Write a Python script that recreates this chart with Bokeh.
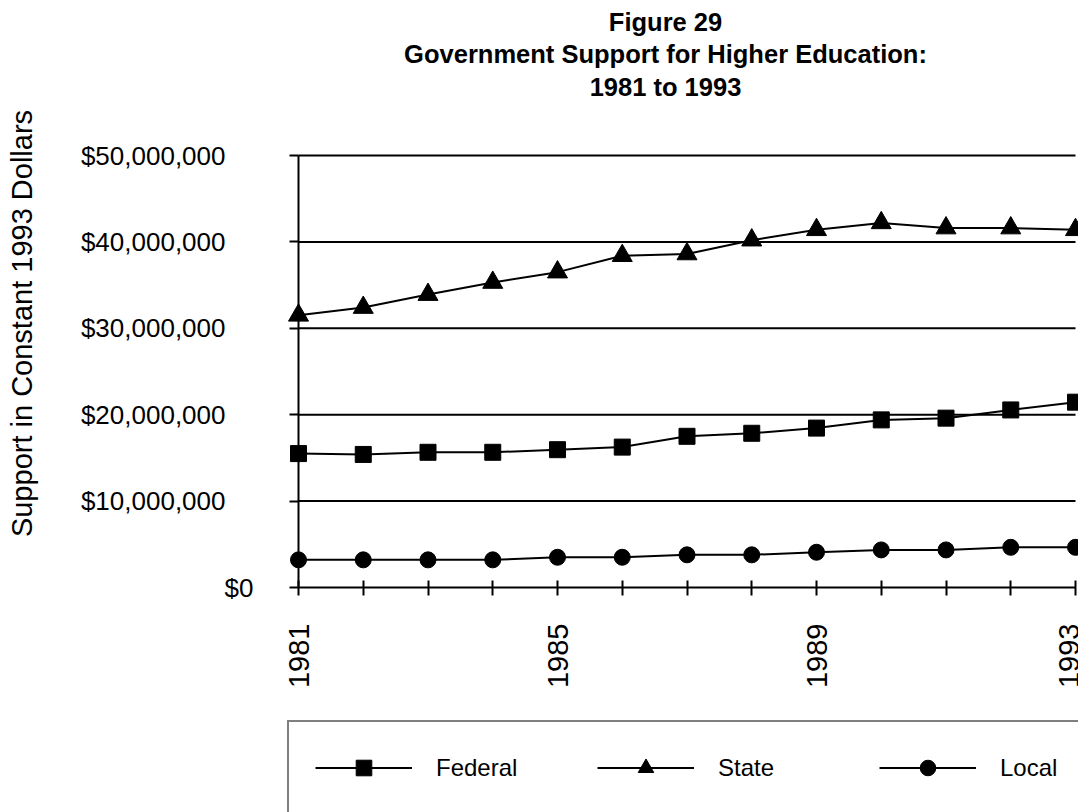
from math import pi

from bokeh.embed import file_html
from bokeh.models import (FixedTicker, Label, Legend, LegendItem, LinearAxis,
                          NumeralTickFormatter, Range1d)
from bokeh.plotting import figure
from bokeh.resources import INLINE

# Government support for higher education, constant 1993 dollars
years = list(range(1981, 1994))
federal = [15_500_000, 15_400_000, 15_650_000, 15_650_000, 15_950_000, 16_250_000,
           17_500_000, 17_850_000, 18_450_000, 19_400_000, 19_600_000, 20_550_000,
           21_450_000]
state = [31_500_000, 32_400_000, 33_900_000, 35_300_000, 36_500_000, 38_400_000,
         38_600_000, 40_200_000, 41_400_000, 42_200_000, 41_600_000, 41_600_000,
         41_400_000]
local = [3_200_000, 3_200_000, 3_200_000, 3_200_000, 3_500_000, 3_500_000,
         3_780_000, 3_780_000, 4_080_000, 4_350_000, 4_350_000, 4_650_000,
         4_650_000]

labelled_years = [1981, 1985, 1989, 1993]
y_ticks = [0, 10_000_000, 20_000_000, 30_000_000, 40_000_000, 50_000_000]
title_lines = ["Figure 29", "Government Support for Higher Education:", "1981 to 1993"]
y_title = "Support in Constant 1993 Dollars"

FONT = "Liberation Sans"
W, H = 1078, 812

# The whole canvas is the plot frame; the axes sit at fixed data locations inside it,
# so the titles, legend and labels can all live in the same drawing area.
PLOT_LEFT, PLOT_RIGHT, PLOT_TOP, PLOT_BOTTOM = 298, 1075, 155, 587
px_per_year = (PLOT_RIGHT - PLOT_LEFT) / (years[-1] - years[0])
px_per_dollar = (PLOT_BOTTOM - PLOT_TOP) / (y_ticks[-1] - y_ticks[0])
x_range = Range1d(years[0] - PLOT_LEFT / px_per_year,
                  years[-1] + (W - PLOT_RIGHT) / px_per_year)
y_range = Range1d(y_ticks[0] - (H - PLOT_BOTTOM) / px_per_dollar,
                  y_ticks[-1] + PLOT_TOP / px_per_dollar)

p = figure(width=W, height=H, output_backend="svg", toolbar_location=None,
           x_range=x_range, y_range=y_range,
           min_border_left=0, min_border_right=0, min_border_top=0, min_border_bottom=0)
p.outline_line_color = None
p.background_fill_color = "white"
p.border_fill_color = "white"
p.xgrid.visible = False
p.ygrid.visible = False

# x axis along y = 0: every year ticked, four years labelled
xax = p.xaxis[0]
xax.fixed_location = y_ticks[0]
xax.bounds = (years[0], years[-1])
xax.ticker = FixedTicker(ticks=labelled_years,
                         minor_ticks=[y for y in years if y not in labelled_years])
xax.axis_line_color = "black"
xax.axis_line_width = 2
xax.major_tick_line_color = "black"
xax.major_tick_line_width = 2
xax.minor_tick_line_color = "black"
xax.minor_tick_line_width = 2
xax.major_tick_in = 7
xax.major_tick_out = 8
xax.minor_tick_in = 7
xax.minor_tick_out = 8
xax.major_label_orientation = pi / 2
xax.major_label_standoff = 28
xax.major_label_text_font = FONT
xax.major_label_text_font_size = "29px"
xax.major_label_text_color = "black"

# y axis at the first year: tick marks for every level, the zero label close in
fmt = NumeralTickFormatter(format="$0,0")
yax = p.yaxis[0]
yax.fixed_location = years[0]
yax.bounds = (y_ticks[0], y_ticks[-1])
yax.ticker = FixedTicker(ticks=y_ticks)
yax.formatter = fmt
yax.major_label_overrides = {t: "" for t in y_ticks[1:]}
yax.axis_line_color = "black"
yax.axis_line_width = 2
yax.major_tick_line_color = "black"
yax.major_tick_line_width = 2
yax.major_tick_in = 0
yax.major_tick_out = 9
yax.minor_tick_line_color = None
yax.major_label_standoff = 36
yax.major_label_text_font = FONT
yax.major_label_text_font_size = "26px"
yax.major_label_text_color = "black"

# the other dollar labels, set further out
yax2 = LinearAxis(fixed_location=years[0], bounds=(y_ticks[0], y_ticks[-1]),
                  ticker=FixedTicker(ticks=y_ticks[1:]), formatter=fmt,
                  axis_line_color=None, major_tick_line_color=None,
                  minor_tick_line_color=None, major_tick_in=0, major_tick_out=9,
                  major_label_standoff=64, major_label_text_font=FONT,
                  major_label_text_font_size="26px", major_label_text_color="black")
p.add_layout(yax2, "left")

# horizontal rules at each non-zero level, across the plotted years
p.segment(x0=[years[0]] * 5, x1=[years[-1]] * 5, y0=y_ticks[1:], y1=y_ticks[1:],
          line_color="black", line_width=2)

# series
items = []
for name, values, marker, size in [("Federal", federal, "square", 16),
                                   ("State", state, "triangle", 20),
                                   ("Local", local, "circle", 16)]:
    ln = p.line(years, values, line_color="black", line_width=2)
    mk = p.scatter(years, values, marker=marker, size=size,
                   fill_color="black", line_color="black")
    items.append(LegendItem(label=name, renderers=[ln, mk]))

legend = Legend(items=items, orientation="horizontal", location=(287, -3),
                padding=26, margin=0, spacing=0,
                glyph_width=97, glyph_height=39, label_standoff=24, label_width=161,
                label_text_font=FONT, label_text_font_size="24px",
                label_text_color="black",
                border_line_color="black", border_line_width=2,
                background_fill_color="white", background_fill_alpha=1.0)
p.add_layout(legend, "center")

# title block (screen units, measured up from the bottom of the canvas)
for i, line in enumerate(title_lines):
    p.add_layout(Label(x=665, y=H - (21 + 32.5 * i), x_units="screen", y_units="screen",
                       text=line, text_align="center", text_baseline="alphabetic",
                       text_font=FONT, text_font_size="25.5px", text_font_style="bold",
                       text_color="black"))

# rotated y-axis title
p.add_layout(Label(x=21, y=H - 323, x_units="screen", y_units="screen", angle=pi / 2,
                   text=y_title, text_align="center", text_baseline="alphabetic",
                   text_font=FONT, text_font_size="29px", text_color="black"))

open("out.html", "w").write(file_html(p, INLINE))
